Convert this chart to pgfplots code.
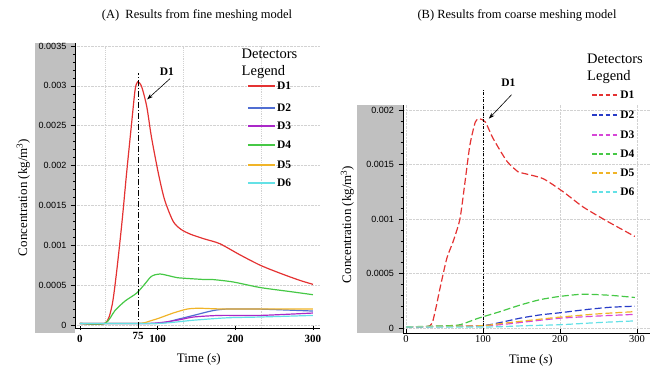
\documentclass[border=0pt]{standalone}
\usepackage{fontspec}
\setmainfont{Liberation Serif}
\newfontfamily\sansf{Liberation Sans}
\usepackage{pgfplots}
\pgfplotsset{compat=1.18}
\usetikzlibrary{arrows.meta}
\definecolor{cDa}{RGB}{228,50,50}
\definecolor{cDbA}{RGB}{80,110,210}
\definecolor{cDbB}{RGB}{40,60,200}
\definecolor{cDc}{RGB}{170,40,200}
\definecolor{cDcB}{RGB}{215,70,215}
\definecolor{cDd}{RGB}{70,200,70}
\definecolor{cDe}{RGB}{240,180,40}
\definecolor{cDf}{RGB}{100,225,230}
\definecolor{gbox}{RGB}{192,192,192}
\tikzset{legtxt/.style={anchor=west, inner sep=0pt, font=\bfseries\fontsize{11.5}{11.5}\selectfont}}
\pgfplotsset{
  common/.style={
    scale only axis, clip=false,
    axis lines=left, axis line style={-, black, line width=0.6pt},
    ymajorgrids=true, grid style={densely dotted, gray!35},
    ytick align=outside, major tick length=4.5pt, minor tick length=2.5pt,
    minor y tick num=4,
    y tick label style={font=\sansf\fontsize{9}{9}\selectfont, xshift=-1pt},
    scaled y ticks=false,
    tick style={black, line width=0.5pt},
    every axis plot/.append style={line width=1.2pt},
  },
}
\begin{document}
\begin{tikzpicture}[x=1pt,y=1pt]
\path[use as bounding box] (0,0) rectangle (662,371);
% gray label backgrounds
\fill[gbox] (35,38) rectangle (75.3,328.3);
\fill[gbox] (357,38) rectangle (403,266);
% titles
\node[font=\fontsize{12.5}{14}\selectfont] at (197,356) {(A)\ \ Results from fine meshing model};
\node[font=\fontsize{12.5}{14}\selectfont] at (517,356) {(B) Results from coarse meshing model};
% ---------- Panel A ----------
\begin{axis}[common,
  at={(75.3pt,43pt)}, anchor=south west,
  width=244.65pt, height=285.3pt,
  xmin=-6, xmax=309, ymin=-0.0000376, ymax=0.003541,
  xtick={0,100,200,300}, xticklabels={0,100,200,300},
  extra x ticks={75}, extra x tick labels={75},
  extra x tick style={major tick length=0pt, grid=none},
  xtick align=center, major x tick style={line width=0.6pt},
  x tick label style={font=\bfseries\fontsize{11}{11}\selectfont, yshift=-1pt},
  ytick={0,0.0005,0.001,0.0015,0.002,0.0025,0.003,0.0035},
  yticklabels={0,0.0005,0.001,0.0015,0.002,0.0025,0.003,0.0035},
]
% vertical grid lines
\addplot[densely dotted, gray!35, line width=0.4pt] coordinates {(33,-0.0000376) (33,0.0035)};
\addplot[densely dotted, gray!35, line width=0.4pt] coordinates {(133,-0.0000376) (133,0.0035)};
\addplot[densely dotted, gray!35, line width=0.4pt] coordinates {(233,-0.0000376) (233,0.0035)};
\addplot[color=cDa, smooth, tension=0.45] coordinates {(0,0.00002) (32,0.00002) (41,0.00023) (47,0.00065) (54,0.00128) (60,0.0019) (66.5,0.00253) (71,0.00295) (74.3,0.00305) (79.4,0.00299) (86,0.00274) (92,0.00236) (101,0.0019) (109,0.00157) (120,0.0013) (130,0.0012) (142,0.00114) (160,0.00108) (180,0.00102) (206,0.00088) (232,0.00075) (257.5,0.00065) (283,0.00056) (300,0.00051)};
\addplot[color=cDbA, smooth, tension=0.4] coordinates {(0,0.00002) (99,0.00002) (125,0.00007) (146,0.00012) (171,0.00018) (189,0.0002) (230,0.0002) (300,0.000175)};
\addplot[color=cDc, smooth, tension=0.4] coordinates {(0,0.00002) (90,0.00002) (125,0.00006) (146,0.0001) (180,0.00012) (232,0.00012) (300,0.00015)};
\addplot[color=cDd, smooth, tension=0.45] coordinates {(0,0.00002) (32,0.00002) (45,0.00018) (58,0.0003) (73,0.0004) (84,0.00052) (92,0.00061) (103,0.00064) (122,0.0006) (129,0.00059) (161,0.00057) (171,0.00057) (197,0.00054) (232,0.00047) (270,0.00042) (300,0.00038)};
\addplot[color=cDe, smooth, tension=0.4] coordinates {(0,0.00002) (75,0.00002) (90,0.00005) (103,0.00009) (120,0.00015) (138,0.0002) (154,0.00021) (189,0.0002) (300,0.0002)};
\addplot[color=cDf, smooth, tension=0.4] coordinates {(0,0.00002) (100,0.00002) (146,0.00006) (189,0.00009) (232,0.0001) (300,0.00012)};
% legend samples
\addplot[color=cDa, line width=1.5pt] coordinates {(216.3,0.002998) (251.1,0.002998)};
\addplot[color=cDbA, line width=1.5pt] coordinates {(216.3,0.002722) (251.1,0.002722)};
\addplot[color=cDc, line width=1.5pt] coordinates {(216.3,0.002496) (251.1,0.002496)};
\addplot[color=cDd, line width=1.5pt] coordinates {(216.3,0.002258) (251.1,0.002258)};
\addplot[color=cDe, line width=1.5pt] coordinates {(216.3,0.002007) (251.1,0.002007)};
\addplot[color=cDf, line width=1.5pt] coordinates {(216.3,0.001781) (251.1,0.001781)};
\node[legtxt] at (axis cs:253.5,0.002998) {D1};
\node[legtxt] at (axis cs:253.5,0.002722) {D2};
\node[legtxt] at (axis cs:253.5,0.002496) {D3};
\node[legtxt] at (axis cs:253.5,0.002258) {D4};
\node[legtxt] at (axis cs:253.5,0.002007) {D5};
\node[legtxt] at (axis cs:253.5,0.001781) {D6};
% dash-dot marker line
\addplot[black, line width=0.6pt, dash pattern=on 6pt off 2pt on 1pt off 2pt] coordinates {(75,-0.0000376) (75,0.003165)};
\draw[-{Stealth[length=6pt,width=4pt]}, line width=0.6pt] (axis cs:116,0.00309) -- (axis cs:86.5,0.00283);
\node[font=\bfseries\fontsize{11.5}{11.5}\selectfont] at (axis cs:112,0.00318) {D1};
\node[anchor=north west, align=left, inner sep=0pt, font=\fontsize{14.5}{17}\selectfont] at (axis cs:208,0.00346) {Detectors\\Legend};
% axis labels
\node[font=\fontsize{13}{13}\selectfont] at (axis cs:153,-0.00043) {Time (\textit{s})};
\node[rotate=90, font=\fontsize{13}{13}\selectfont] at (axis cs:-73,0.0016) {Concentration (kg/m\textsuperscript{3})};
\end{axis}
% ---------- Panel B ----------
\begin{axis}[common,
  at={(403pt,37.7pt)}, anchor=south west,
  width=247.2pt, height=228.3pt,
  xmin=-3.9, xmax=317, ymin=-0.0000486, ymax=0.002046,
  xtick={0,100,200,300}, xticklabels={0,100,200,300},
  xmajorgrids=true,
  xtick align=inside, major x tick style={line width=0.6pt},
  x tick label style={font=\fontsize{10.5}{10.5}\selectfont, yshift=1pt},
  ytick={0,0.0005,0.001,0.0015,0.002},
  yticklabels={0,0.0005,0.001,0.0015,0.002},
  every axis plot/.append style={dash pattern=on 7pt off 3pt},
]
\addplot[color=cDa, smooth, tension=0.4] coordinates {(0,0.00001) (31,0.00002) (37.7,0.00015) (44,0.00036) (53,0.00064) (61,0.00079) (70,0.001) (76.6,0.00134) (83,0.00168) (90,0.00189) (95,0.00192) (103,0.00189) (113,0.00174) (131,0.00153) (146,0.00143) (152,0.00142) (178,0.00137) (204,0.00125) (230,0.00111) (261,0.00098) (297,0.00084)};
\addplot[color=cDbB, smooth, tension=0.4] coordinates {(0,0.00001) (95,0.00002) (122,0.00005) (148,0.00009) (174,0.00012) (200,0.00014) (235,0.00017) (265,0.00019) (297,0.0002)};
\addplot[color=cDcB, smooth, tension=0.4] coordinates {(0,0.00001) (95,0.00002) (122,0.00003) (160,0.00006) (200,0.00009) (250,0.00011) (297,0.000125)};
\addplot[color=cDd, smooth, tension=0.4] coordinates {(0,0.00001) (50,0.00002) (70,0.00003) (94,0.00009) (122,0.00015) (148,0.00021) (174,0.00026) (200,0.00029) (230,0.00031) (265,0.0003) (297,0.00028)};
\addplot[color=cDe, smooth, tension=0.4] coordinates {(0,0.00001) (95,0.00002) (122,0.00004) (160,0.00007) (200,0.0001) (250,0.00013) (297,0.00015)};
\addplot[color=cDf, smooth, tension=0.4] coordinates {(0,0.00001) (110,0.00001) (150,0.00002) (200,0.00003) (250,0.00005) (297,0.000065)};
% legend samples
\addplot[color=cDa, line width=1.5pt, dash pattern=on 4.5pt off 2.3pt] coordinates {(241.6,0.002138) (276.6,0.002138)};
\addplot[color=cDbB, line width=1.5pt, dash pattern=on 4.5pt off 2.3pt] coordinates {(241.6,0.001954) (276.6,0.001954)};
\addplot[color=cDcB, line width=1.5pt, dash pattern=on 4.5pt off 2.3pt] coordinates {(241.6,0.001771) (276.6,0.001771)};
\addplot[color=cDd, line width=1.5pt, dash pattern=on 4.5pt off 2.3pt] coordinates {(241.6,0.001596) (276.6,0.001596)};
\addplot[color=cDe, line width=1.5pt, dash pattern=on 4.5pt off 2.3pt] coordinates {(241.6,0.001422) (276.6,0.001422)};
\addplot[color=cDf, line width=1.5pt, dash pattern=on 4.5pt off 2.3pt] coordinates {(241.6,0.001248) (276.6,0.001248)};
\node[legtxt] at (axis cs:278,0.002138) {D1};
\node[legtxt] at (axis cs:278,0.001954) {D2};
\node[legtxt] at (axis cs:278,0.001771) {D3};
\node[legtxt] at (axis cs:278,0.001596) {D4};
\node[legtxt] at (axis cs:278,0.001422) {D5};
\node[legtxt] at (axis cs:278,0.001248) {D6};
\addplot[black, line width=0.6pt, dash pattern=on 3pt off 1.5pt on 0.8pt off 1.5pt] coordinates {(100,-0.0000486) (100,0.002183)};
\draw[-{Stealth[length=6pt,width=4pt]}, line width=0.6pt] (axis cs:137,0.00214) -- (axis cs:107.5,0.00192);
\node[font=\bfseries\fontsize{11.5}{11.5}\selectfont] at (axis cs:133,0.00225) {D1};
\node[anchor=north west, align=left, inner sep=0pt, font=\fontsize{14.5}{17}\selectfont] at (axis cs:235,0.00252) {Detectors\\Legend};
\node[font=\fontsize{13}{13}\selectfont] at (axis cs:162,-0.0003) {Time (\textit{s})};
\node[rotate=90, font=\fontsize{13}{13}\selectfont] at (axis cs:-76,0.00095) {Concentration (kg/m\textsuperscript{3})};
\end{axis}
\end{tikzpicture}
\end{document}
